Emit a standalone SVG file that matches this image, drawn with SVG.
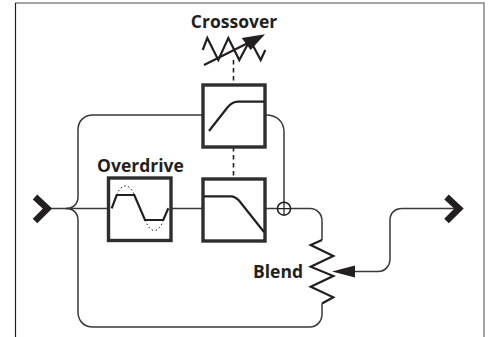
<svg xmlns="http://www.w3.org/2000/svg" width="491" height="337" viewBox="0 0 491 337">
<style>
.w{fill:none;stroke:#3a3839;stroke-width:1.5}
.box{fill:#fff;stroke:#2f2d2e;stroke-width:3.4}
.c{fill:none;stroke:#231f20;stroke-width:2.2}
.dash{fill:none;stroke:#231f20;stroke-width:1.6;stroke-dasharray:4.500 3.500}
.chev{fill:none;stroke:#231f20;stroke-width:6.500;stroke-miterlimit:4}
text{font-family:"Open Sans","Noto Sans",sans-serif;font-weight:700;font-size:17.500px;fill:#231f20;text-anchor:middle}
</style>
<rect width="491" height="337" fill="#fff"/>
<g id="frame">
<path d="M15 3H484V337" fill="none" stroke="#858585" stroke-width="1.500"/>
<path d="M15.500 3V337" fill="none" stroke="#231f20" stroke-width="1.200"/>
</g>
<g id="connectors">
<path class="w" d="M48 208.500H108M172 208.500H202M266 208.500H277.500"/>
<path class="w" d="M66 208.500C73 208.500 78 204 78 197V130C78 121 84 115 93 115H202"/>
<path class="w" d="M66 208.500C73 208.500 78 213 78 220V312C78 321 84 327 93 327H310C317 327 322 321 322 314V303.500"/>
<path class="w" d="M266 115C277 115 284 122 284 132V202.500"/>
<path class="w" d="M290.500 208.500H310C317 208.500 322 214 322 221V240"/>
<path class="w" d="M350 271.500H378C385 271.500 390 266 390 259V220C390 213 395 208.500 402 208.500H458"/>
<path class="dash" d="M233.500 60V84M233.500 147V178"/>
</g>
<g id="input"><path class="chev" d="M35 197L47.500 208.500L35 221"/></g>
<g id="output"><path class="chev" d="M446.500 197L459 208.500L446.500 221"/></g>
<g id="crossover">
<text x="234" y="27.500">Crossover</text>
<path class="c" d="M202.700 50L207.300 38L218.300 60L228.300 38L239.300 60L250 40L260.700 60L265.300 50"/>
<path class="c" d="M204 65L248 43"/>
<path fill="#231f20" d="M265 34.300L241.700 38L250.700 50Z"/>
</g>
<g id="highpass">
<rect class="box" x="203" y="85" width="62" height="62"/>
<path class="c" d="M209 131L227 108Q232 101.700 238 101.700H264"/>
</g>
<g id="overdrive">
<text x="140.500" y="171.500">Overdrive</text>
<rect class="box" x="108.500" y="178" width="62.500" height="62.500"/>
<path fill="none" stroke="#231f20" stroke-width="1" stroke-dasharray="1.500 2.500" d="M116.700 195C119 189 122 186 125.500 186C129 186 132 189 134.300 195M145 220C148 227 151 230.500 154.200 230.500C158 230.500 161 227 163.300 220"/>
<path class="c" d="M111.700 208.300L116.700 195H134.300L145 220H163.300L168.300 208.300"/>
</g>
<g id="lowpass">
<rect class="box" x="203" y="179" width="62" height="62"/>
<path class="c" d="M204 196.300H231Q235 196.300 239 200.500L264 232"/>
</g>
<g id="mixer">
<circle cx="284" cy="208.700" r="6.500" fill="#fff" stroke="#231f20" stroke-width="1.500"/>
<path d="M284 202.200V215.200M277.500 208.700H290.500" stroke="#231f20" stroke-width="1.200" fill="none"/>
</g>
<g id="blend">
<text x="278" y="278">Blend</text>
<path class="c" d="M322 240L310.700 245L333.300 256L310.700 266.700L333.300 276L310.700 286.700L333.300 297.300L322 303.500"/>
<path fill="#231f20" d="M332 271.500L355 265.500V277.500Z"/>
</g>
</svg>
